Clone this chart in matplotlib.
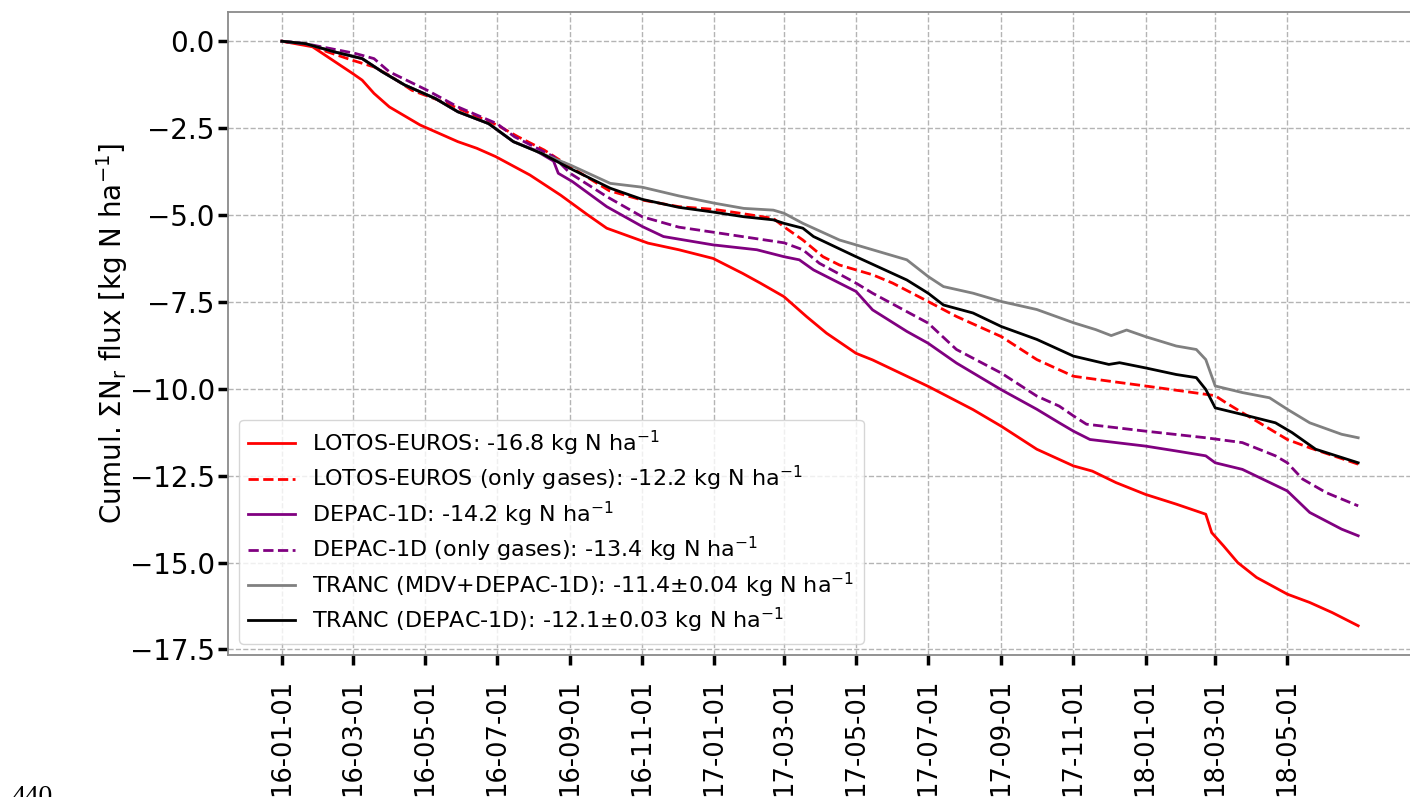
import matplotlib
matplotlib.use("Agg")
import matplotlib.pyplot as plt
import matplotlib.dates as mdates
from matplotlib.ticker import MultipleLocator
import pandas as pd

# ---------------- data ----------------
le_dates = ["2016-01-01","2016-01-27","2016-03-01","2016-03-09","2016-03-19","2016-04-01","2016-04-27",
            "2016-05-29","2016-06-14","2016-06-30","2016-07-29","2016-08-24","2016-09-16","2016-10-02",
            "2016-11-06","2016-12-02","2016-12-31","2017-01-25","2017-02-09","2017-03-01","2017-03-20",
            "2017-04-06","2017-05-01","2017-05-15","2017-07-01","2017-08-08","2017-09-01","2017-10-01",
            "2017-11-01","2017-11-17","2017-12-07","2018-01-01","2018-01-27","2018-02-21","2018-02-26",
            "2018-03-08","2018-03-20","2018-04-05","2018-05-01","2018-05-20","2018-06-08","2018-06-30"]
le_vals = [0, -0.16, -0.93, -1.12, -1.50, -1.89, -2.41,
           -2.89, -3.08, -3.32, -3.85, -4.43, -5.00, -5.38,
           -5.81, -6.00, -6.25, -6.68, -6.96, -7.35, -7.92,
           -8.40, -8.98, -9.17, -9.93, -10.60, -11.08, -11.74,
           -12.22, -12.37, -12.70, -13.04, -13.32, -13.61, -14.14,
           -14.52, -15.00, -15.43, -15.91, -16.15, -16.44, -16.82]

leg_dates = ["2016-01-01","2016-01-24","2016-02-09","2016-03-01","2016-03-19","2016-04-01","2016-04-20",
             "2016-05-16","2016-06-05","2016-07-01","2016-07-19","2016-08-10","2016-09-01","2016-10-04",
             "2016-11-01","2016-12-02","2017-01-01","2017-01-23","2017-02-20","2017-03-01","2017-03-17",
             "2017-04-03","2017-04-17","2017-05-01","2017-05-15","2017-06-01","2017-07-01","2017-07-25",
             "2017-09-01","2017-10-01","2017-11-01","2017-12-01","2018-01-01","2018-02-21","2018-03-01",
             "2018-03-10","2018-03-24","2018-04-05","2018-05-01","2018-05-20","2018-06-30"]
leg_vals = [0, -0.11, -0.31, -0.55, -0.74, -0.98, -1.41,
            -1.74, -2.03, -2.41, -2.75, -3.13, -3.61, -4.30,
            -4.57, -4.76, -4.84, -4.95, -5.10, -5.34, -5.72,
            -6.20, -6.44, -6.58, -6.72, -6.96, -7.49, -7.92,
            -8.50, -9.16, -9.64, -9.78, -9.92, -10.16, -10.20,
            -10.40, -10.69, -10.93, -11.46, -11.70, -12.17]

dep_dates = ["2016-01-01","2016-01-21","2016-02-15","2016-03-09","2016-03-26","2016-04-14","2016-05-10",
             "2016-05-29","2016-06-24","2016-07-15","2016-08-02","2016-08-18","2016-08-22","2016-09-03",
             "2016-10-02","2016-11-01","2016-11-19","2016-12-31","2017-02-06","2017-03-01","2017-03-14",
             "2017-03-26","2017-04-17","2017-05-01","2017-05-15","2017-06-13","2017-07-01","2017-07-25",
             "2017-09-01","2017-10-01","2017-10-20","2017-11-01","2017-11-15","2018-01-01","2018-01-27",
             "2018-02-21","2018-03-01","2018-03-24","2018-05-01","2018-05-20","2018-06-16","2018-06-30"]
dep_vals = [0, -0.07, -0.31, -0.50, -0.88, -1.26, -1.65,
            -2.03, -2.37, -2.89, -3.13, -3.45, -3.80, -4.04,
            -4.76, -5.33, -5.62, -5.86, -6.00, -6.20, -6.29,
            -6.58, -6.96, -7.20, -7.73, -8.35, -8.69, -9.26,
            -10.03, -10.59, -10.98, -11.22, -11.46, -11.65, -11.79,
            -11.93, -12.13, -12.32, -12.94, -13.56, -14.04, -14.23]

depg_dates = ["2016-01-01","2016-01-21","2016-03-03","2016-03-19","2016-04-01","2016-05-03","2016-05-29",
              "2016-07-01","2016-07-16","2016-08-18","2016-09-01","2016-10-02","2016-11-01","2016-12-02",
              "2017-01-01","2017-03-01","2017-03-17","2017-03-31","2017-05-01","2017-05-15","2017-07-01",
              "2017-07-25","2017-09-01","2017-10-01","2017-10-20","2017-11-01","2017-11-12","2018-01-01",
              "2018-02-21","2018-03-24","2018-04-21","2018-05-01","2018-05-14","2018-06-03","2018-06-30"]
depg_vals = [0, -0.07, -0.35, -0.50, -0.88, -1.41, -1.89,
             -2.37, -2.75, -3.32, -3.80, -4.47, -5.05, -5.35,
             -5.50, -5.80, -6.00, -6.39, -6.96, -7.25, -8.11,
             -8.87, -9.55, -10.21, -10.50, -10.78, -11.02, -11.22,
             -11.41, -11.55, -11.93, -12.13, -12.60, -12.99, -13.37]

trm_dates = ["2016-01-01","2016-01-21","2016-02-15","2016-03-09","2016-03-26","2016-04-14","2016-05-10",
             "2016-05-29","2016-06-24","2016-07-15","2016-08-08","2016-09-01","2016-10-05","2016-11-01",
             "2016-12-02","2017-01-01","2017-01-26","2017-02-20","2017-03-01","2017-03-17","2017-04-17",
             "2017-05-01","2017-06-13","2017-07-01","2017-07-14","2017-08-08","2017-09-01","2017-10-01",
             "2017-11-01","2017-11-20","2017-12-03","2017-12-16","2018-01-01","2018-01-27","2018-02-13",
             "2018-02-21","2018-03-01","2018-03-24","2018-04-16","2018-05-01","2018-05-20","2018-06-16",
             "2018-06-30"]
trm_vals = [0, -0.07, -0.31, -0.50, -0.88, -1.26, -1.65,
            -2.03, -2.37, -2.89, -3.23, -3.56, -4.09, -4.20,
            -4.45, -4.66, -4.81, -4.86, -4.95, -5.24, -5.72,
            -5.86, -6.29, -6.77, -7.06, -7.25, -7.49, -7.72,
            -8.10, -8.30, -8.47, -8.31, -8.50, -8.77, -8.87,
            -9.16, -9.92, -10.11, -10.26, -10.59, -10.98, -11.31,
            -11.41]

trd_dates = ["2016-01-01","2016-01-21","2016-02-15","2016-03-09","2016-03-26","2016-04-14","2016-05-10",
             "2016-05-29","2016-06-24","2016-07-15","2016-08-08","2016-09-01","2016-10-05","2016-11-01",
             "2016-12-02","2017-01-01","2017-01-26","2017-02-20","2017-03-01","2017-03-17","2017-03-26",
             "2017-05-01","2017-06-13","2017-07-01","2017-07-14","2017-08-08","2017-09-01","2017-10-01",
             "2017-11-01","2017-12-01","2017-12-10","2018-01-01","2018-01-27","2018-02-13","2018-02-21",
             "2018-03-01","2018-03-24","2018-04-21","2018-05-05","2018-05-25","2018-06-30"]
trd_vals = [0, -0.07, -0.31, -0.50, -0.88, -1.26, -1.65,
            -2.03, -2.37, -2.89, -3.23, -3.66, -4.23, -4.55,
            -4.78, -4.92, -5.05, -5.14, -5.24, -5.38, -5.62,
            -6.20, -6.87, -7.25, -7.59, -7.82, -8.21, -8.58,
            -9.06, -9.30, -9.25, -9.40, -9.59, -9.68, -10.02,
            -10.55, -10.74, -10.98, -11.26, -11.74, -12.13]

tick_dates = ["2016-01-01","2016-03-01","2016-05-01","2016-07-01","2016-09-01","2016-11-01",
              "2017-01-01","2017-03-01","2017-05-01","2017-07-01","2017-09-01","2017-11-01",
              "2018-01-01","2018-03-01","2018-05-01"]

labels = ["LOTOS-EUROS: -16.8 kg N ha$^{-1}$",
          "LOTOS-EUROS (only gases): -12.2 kg N ha$^{-1}$",
          "DEPAC-1D: -14.2 kg N ha$^{-1}$",
          "DEPAC-1D (only gases): -13.4 kg N ha$^{-1}$",
          "TRANC (MDV+DEPAC-1D): -11.4\u00b10.04 kg N ha$^{-1}$",
          "TRANC (DEPAC-1D): -12.1\u00b10.03 kg N ha$^{-1}$"]
ylabel = "Cumul. \u03a3N$_\\mathrm{r}$ flux [kg N ha$^{-1}$]"

# ---------------- figure ----------------
plt.rcParams['font.family'] = ['DejaVu Sans']
fig = plt.figure(figsize=(14.10, 7.97), dpi=100)
ax = fig.add_axes([228/1410, 1 - 655/797, (1412 - 228)/1410, (655 - 12)/797])

series = [
    (le_dates, le_vals, 'red', '-'),
    (leg_dates, leg_vals, 'red', '--'),
    (dep_dates, dep_vals, 'purple', '-'),
    (depg_dates, depg_vals, 'purple', '--'),
    (trm_dates, trm_vals, 'gray', '-'),
    (trd_dates, trd_vals, 'black', '-'),
]
for (d, v, c, ls), lab in zip(series, labels):
    ax.plot(pd.to_datetime(d), v, color=c, linestyle=ls, linewidth=2, label=lab)

ax.set_xticks(pd.to_datetime(tick_dates))
ax.xaxis.set_major_formatter(mdates.DateFormatter('%y-%m-%d'))
ax.yaxis.set_major_locator(MultipleLocator(2.5))
ax.tick_params(axis='x', labelsize=18.5, rotation=90, length=7, width=2.5, pad=10, color='black')
ax.tick_params(axis='y', labelsize=20, length=7, width=2.5, pad=2.5, color='black')

ax.grid(True, linestyle='--', color='#b4b4b4', linewidth=1)
for s in ax.spines.values():
    s.set_color('#8a8a8a')
    s.set_linewidth(1.3)

ax.set_ylabel(ylabel, fontsize=20, labelpad=0)
ax.legend(loc='lower left', fontsize=16, framealpha=0.8, labelspacing=0.28,
          handlelength=2.1)

fig.text(12/1410, 1 - 785/797, "440", family='Liberation Serif', fontsize=20, va='top', ha='left')

fig.savefig("out.png", dpi=100)
